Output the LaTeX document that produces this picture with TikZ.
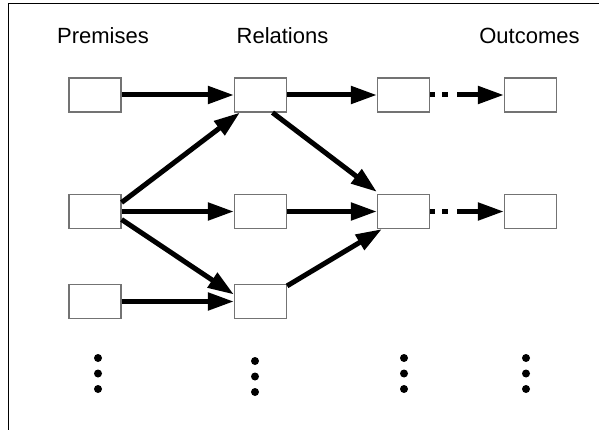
\documentclass[tikz,border=0pt]{standalone}
\usepackage{fontspec}
\setmainfont{Liberation Sans}
\usetikzlibrary{arrows.meta}
\begin{document}
\begin{tikzpicture}[x=1pt,y=-1pt,
  cell/.style={draw=black!55,line width=1.2pt,fill=white,minimum width=52pt,minimum height=34pt,inner sep=0pt},
  head/.style={anchor=base,font=\fontsize{22}{26}\selectfont},
  flow/.style={line width=5pt,-{Triangle[length=26pt,width=17pt]}},
  gapflow/.style={flow,dash pattern=on 4.5pt off 7.5pt on 6pt off 9pt on 200pt off 0pt},
  ell/.style={fill=black,circle,inner sep=0pt,minimum size=8pt}]
\useasboundingbox (0,0) rectangle (599,430);
% frame edges
\draw[line width=1.3pt] (8.5,430) -- (8.5,3.5) -- (599,3.5);
% column headings
\node[head] (hp) at (103,44) {Premises};
\node[head] (hr) at (282.5,44) {Relations};
\node[head] (ho) at (529.5,44) {Outcomes};
% boxes
\node[cell] (p1) at (95,95) {};
\node[cell] (p2) at (95,211.5) {};
\node[cell] (p3) at (95,301.5) {};
\node[cell] (r1) at (260.5,95) {};
\node[cell] (r2) at (260.5,211.5) {};
\node[cell] (r3) at (260.5,301.5) {};
\node[cell] (c1) at (403.5,95) {};
\node[cell] (c2) at (403.5,211.5) {};
\node[cell] (o1) at (530.5,95) {};
\node[cell] (o2) at (530.5,211.5) {};
% connectors
\draw[flow] (p1.east) -- (r1.west);
\draw[flow] ([yshift=9pt]p2.east) -- ([xshift=6pt]r1.south west);
\draw[flow] (p2.east) -- (r2.west);
\draw[flow] ([yshift=-8pt]p2.east) -- ([yshift=7pt]r3.west);
\draw[flow] (p3.east) -- (r3.west);
\draw[flow] (r1.east) -- (c1.west);
\draw[flow] ([xshift=12pt]r1.south) -- ([yshift=2pt]c2.north west);
\draw[flow] (r2.east) -- (c2.west);
\draw[flow] ([yshift=-2pt]r3.north east) -- ([xshift=5pt]c2.south west);
\draw[gapflow] (c1.east) -- (o1.west);
\draw[gapflow] (c2.east) -- (o2.west);
% continuation dots
\foreach \n/\x/\y in {a/98/358,b/255/361,c/404/358,d/526/358}{
  \node[ell] (\n1) at (\x,\y) {};
  \node[ell] (\n2) at (\x,\y+15.5) {};
  \node[ell] (\n3) at (\x,\y+31) {};
}
\end{tikzpicture}
\end{document}
